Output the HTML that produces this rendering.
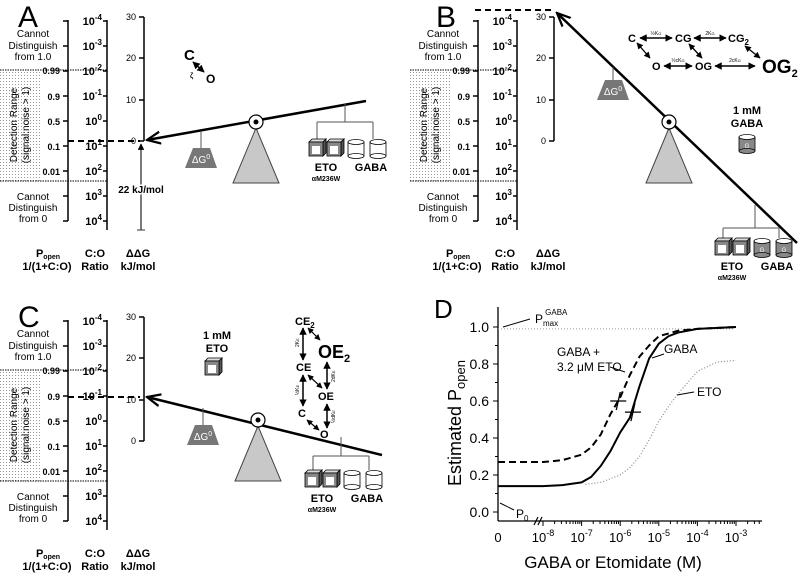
<!DOCTYPE html>
<html><head><meta charset="utf-8"><style>
html,body{margin:0;padding:0;background:#fff}
svg{display:block;font-family:"Liberation Sans",Arial,sans-serif}
.b{font-weight:bold}
</style></head><body>
<svg id="fig" width="800" height="574" viewBox="0 0 800 574" xmlns="http://www.w3.org/2000/svg">
<defs>
<pattern id="stip" width="3" height="3" patternUnits="userSpaceOnUse"><rect width="3" height="3" fill="#fff"/><rect width="1" height="1" fill="#999"/></pattern>
<marker id="ah" viewBox="0 0 10 10" refX="9" refY="5" markerWidth="5" markerHeight="5" orient="auto-start-reverse"><path d="M0,0 L10,5 L0,10 z" fill="#000"/></marker>
<marker id="ao" viewBox="0 0 10 10" refX="9" refY="5" markerWidth="6" markerHeight="6" orient="auto"><path d="M0,1 L9,5 L0,9" fill="none" stroke="#000" stroke-width="1.5"/></marker>
</defs>
<g id="pA"></g>
<g id="pB" transform="translate(410,0)"></g>
<g id="pC" transform="translate(0,300)"></g>
<g id="pD"></g>
</svg>
<script>
// ---- Panel D data ----
const gabaLog = [-8,-7.5,-7,-6.75,-6.5,-6.25,-6,-5.75,-5.5,-5.25,-5,-4.75,-4.5,-4,-3];
const gabaP   = [0.14,0.145,0.16,0.19,0.25,0.33,0.43,0.51,0.68,0.83,0.91,0.95,0.97,0.99,1.0];
const comboLog = [-8,-7.5,-7,-6.75,-6.5,-6.25,-6,-5.75,-5.5,-5.25,-5,-4.5,-4,-3];
const comboP   = [0.27,0.28,0.31,0.35,0.42,0.53,0.62,0.74,0.84,0.9,0.95,0.98,0.99,1.0];
const etoLog = [-6.9,-6.5,-6,-5.75,-5.5,-5.25,-5,-4.75,-4.5,-4.25,-4,-3.5,-3];
const etoP   = [0.15,0.16,0.2,0.24,0.3,0.39,0.49,0.57,0.64,0.7,0.76,0.81,0.82];
const gabaZero = 0.14;
const comboZero = 0.27;
const yTicks = [0,0.2,0.4,0.6,0.8,1.0];
const yTickLabels = ["0.0","0.2","0.4","0.6","0.8","1.0"];
const xTickLogs = [-8,-7,-6,-5,-4,-3];
const crossLog = [-5.67,-6.05];
const crossP = [0.54,0.6];
const pmax = 0.99;

function tick10(x,y,e,anchor){return `<text x="${x}" y="${y}" font-size="11" class="b" text-anchor="${anchor||'end'}">10<tspan font-size="8" dy="-5">${e}</tspan></text>`;}

function axes(tag){
  let s='';
  s+=`<rect x="0" y="70" width="40" height="111" fill="url(#stip)"/>`;
  s+=`<line x1="0" y1="70" x2="107" y2="70" stroke="#000" stroke-width="1" stroke-dasharray="1.5,1"/>`;
  s+=`<line x1="0" y1="181" x2="107" y2="181" stroke="#000" stroke-width="1" stroke-dasharray="1.5,1"/>`;
  s+=`<g font-size="10" text-anchor="middle"><text x="33" y="37">Cannot</text><text x="33" y="49">Distinguish</text><text x="33" y="60">from 1.0</text></g>`;
  s+=`<g font-size="10" text-anchor="middle"><text x="33" y="200">Cannot</text><text x="33" y="211">Distinguish</text><text x="33" y="222">from 0</text></g>`;
  s+=`<g font-size="10" text-anchor="middle" transform="translate(20,125) rotate(-90)"><text x="0" y="-3">Detection Range</text><text x="0" y="9">(signal:noise &gt; 1)</text></g>`;
  s+=`<g stroke="#000" stroke-width="1.5"><line x1="68" y1="20" x2="68" y2="221"/>`;
  for(const y of [21,46,71,96,121,146,171,196,221]) s+=`<line x1="63" y1="${y}" x2="68" y2="${y}"/>`;
  s+=`</g><g font-size="9" text-anchor="end" class="b">`;
  [['0.99',74],['0.9',100],['0.5',125],['0.1',150],['0.01',175]].forEach(a=>s+=`<text x="60" y="${a[1]}">${a[0]}</text>`);
  s+=`</g>`;
  s+=`<g stroke="#000" stroke-width="1.5"><line x1="107" y1="20" x2="107" y2="230"/>`;
  for(const y of [21,46,71,96,121,146,171,196,221]) s+=`<line x1="103" y1="${y}" x2="107" y2="${y}"/>`;
  s+=`</g><g>`;
  ['-4','-3','-2','-1','0','1','2','3','4'].forEach((e,i)=>s+=tick10(102,25+25*i,e));
  s+=`</g>`;
  s+=`<g stroke="#000" stroke-width="1.5"><line x1="144" y1="17" x2="144" y2="141"/>`;
  for(const y of [17,58,100,141]) s+=`<line x1="139" y1="${y}" x2="144" y2="${y}"/>`;
  s+=`</g><g font-size="9" text-anchor="end"><text x="136" y="20">30</text><text x="136" y="61">20</text><text x="136" y="103">10</text><text x="136" y="144">0</text></g>`;
  s+=`<g font-size="11" class="b" text-anchor="middle">
  <text x="48" y="257">P<tspan font-size="7" dy="2">open</tspan></text><text x="47" y="270">1/(1+C:O)</text>
  <text x="95" y="257">C:O</text><text x="95" y="270">Ratio</text>
  <text x="138" y="257">ΔΔG</text><text x="138" y="270">kJ/mol</text></g>`;
  return s;
}
function pivot(tag,x,y){
  return `<polygon points="${x},${y+6} ${x-23},${y+61} ${x+23},${y+61}" fill="#c8c8c8" stroke="#444" stroke-width="1"/>
  <circle cx="${x}" cy="${y}" r="7" fill="#fff" stroke="#000" stroke-width="1.2"/><circle cx="${x}" cy="${y}" r="2.5" fill="#000"/>`;
}
function weight(tag,x,y0,y){
  return `<g><line x1="${x}" y1="${y0}" x2="${x}" y2="${y}" stroke="#555"/>
  <polygon points="${x-8},${y} ${x+9},${y} ${x+16},${y+20} ${x-16},${y+20}" fill="#777"/>
  <text x="${x}" y="${y+15}" fill="#fff" font-size="10" text-anchor="middle">ΔG<tspan font-size="7" dy="-4">0</tspan></text></g>`;
}
function cube(x,y,fill){return `<g><polygon points="${x},${y+3} ${x+3},${y} ${x+17},${y} ${x+14},${y+3}" fill="#ddd" stroke="#000" stroke-width="0.8"/><polygon points="${x+14},${y+3} ${x+17},${y} ${x+17},${y+14} ${x+14},${y+17}" fill="#555" stroke="#000" stroke-width="0.8"/><rect x="${x}" y="${y+3}" width="14" height="14" fill="${fill}" stroke="#000" stroke-width="0.8"/><rect x="${x+3}" y="${y+7}" width="8" height="8" fill="#fff"/></g>`;}
function cyl(x,y,fill){return `<g><rect x="${x}" y="${y+3}" width="16" height="14" fill="${fill}" stroke="#000" stroke-width="0.8"/><ellipse cx="${x+8}" cy="${y+17}" rx="8" ry="2.5" fill="${fill}" stroke="#000" stroke-width="0.8"/><ellipse cx="${x+8}" cy="${y+3}" rx="8" ry="2.5" fill="#fff" stroke="#000" stroke-width="0.8"/>${fill!=='#fff'?`<text x="${x+8}" y="${y+14}" font-size="6" fill="#fff" text-anchor="middle">G</text>`:''}</g>`;}
function cluster(tag,hx,hy0,hy1,bx,by,gfill){
  let s=`<g stroke="#555" fill="none"><line x1="${hx}" y1="${hy0}" x2="${hx}" y2="${hy1}"/><line x1="${bx+8}" y1="${hy1}" x2="${bx+64}" y2="${hy1}"/><line x1="${bx+8}" y1="${hy1}" x2="${bx+8}" y2="${by}"/><line x1="${bx+64}" y1="${hy1}" x2="${bx+64}" y2="${by}"/></g>`;
  s+=`<g>${cube(bx,by,'#888')}${cube(bx+18,by,'#888')}</g>`;
  s+=`<g>${cyl(bx+39,by,gfill)}${cyl(bx+61,by,gfill)}</g>`;
  s+=`<g class="b" text-anchor="middle"><text x="${bx+17}" y="${by+32}" font-size="11">ETO</text><text x="${bx+17}" y="${by+42}" font-size="7">αM236W</text><text x="${bx+62}" y="${by+32}" font-size="11">GABA</text></g>`;
  return s;
}
function dblArrow(x1,y1,x2,y2,w){return `<line x1="${x1}" y1="${y1}" x2="${x2}" y2="${y2}" stroke="#000" stroke-width="${w||1.5}" marker-start="url(#ah)" marker-end="url(#ah)"/>`;}

// Panel A
let a = `<text x="18" y="27" font-size="30">A</text>` + axes('a');
a += `<line x1="68" y1="141" x2="140" y2="141" stroke="#000" stroke-width="2" stroke-dasharray="6,4"/>`;
a += `<line x1="366" y1="101" x2="147" y2="140" stroke="#000" stroke-width="2.5" marker-end="url(#ao)"/>`;
a += `<g><line x1="141" y1="144" x2="141" y2="230" stroke="#333" stroke-width="1.3" marker-start="url(#ah)"/><line x1="137" y1="230" x2="145" y2="230" stroke="#333"/><text x="141" y="193" font-size="10" class="b" text-anchor="middle" fill="#000" stroke="#fff" stroke-width="3" paint-order="stroke">22 kJ/mol</text></g>`;
a += weight('a',201,131,148) + pivot('a',256,122) + cluster('a',345,104,122,309,139,'#fff');
a += `<g class="b"><text x="184" y="60" font-size="15">C</text><text x="206" y="83" font-size="12">O</text>${dblArrow(193,62,204,72)}<text x="190" y="78" font-size="7">ζ</text></g>`;
document.getElementById('pA').innerHTML = a;

// Panel B (offset 410)
let b = `<text x="26" y="27" font-size="30">B</text>` + axes('b');
b += `<line x1="65" y1="10" x2="145" y2="10" stroke="#000" stroke-width="2" stroke-dasharray="6,4"/>`;
b += `<line x1="387" y1="243" x2="147" y2="13" stroke="#000" stroke-width="2.5" marker-end="url(#ao)"/>`;
b += weight('b',203,67,80) + pivot('b',259,122) + cluster('b',345,205,228,305,238,'#888');
b += `<g class="b" text-anchor="middle" font-size="11"><text x="337" y="114">1 mM</text><text x="337" y="127">GABA</text></g><g transform="translate(329,134)">${cyl(0,0,'#888')}</g>`;
b += `<g class="b">
<text x="218" y="42" font-size="11">C</text><text x="265" y="42" font-size="11">CG</text><text x="318" y="42" font-size="11">CG<tspan font-size="8" dy="3">2</tspan></text>
<text x="242" y="70" font-size="11">O</text><text x="285" y="70" font-size="11">OG</text><text x="352" y="73" font-size="19">OG<tspan font-size="11" dy="4">2</tspan></text>
${dblArrow(230,38,262,38)}${dblArrow(284,38,316,38)}${dblArrow(254,66,282,66)}${dblArrow(305,66,345,66)}
${dblArrow(227,43,240,58,1.3)}${dblArrow(279,44,292,58,1.3)}${dblArrow(335,46,350,58,1.3)}
<g font-size="5" font-weight="normal" text-anchor="middle"><text x="246" y="35">½K<tspan font-size="4">G</tspan></text><text x="300" y="35">2K<tspan font-size="4">G</tspan></text><text x="268" y="62">½cK<tspan font-size="4">G</tspan></text><text x="325" y="62">2cK<tspan font-size="4">G</tspan></text></g></g>`;
document.getElementById('pB').innerHTML = b;

// Panel C (offset y 300)
let c = `<text x="18" y="27" font-size="30">C</text>` + axes('c');
c += `<line x1="68" y1="97" x2="140" y2="97" stroke="#000" stroke-width="2" stroke-dasharray="6,4"/>`;
c += `<line x1="382" y1="155" x2="147" y2="97" stroke="#000" stroke-width="2.5" marker-end="url(#ao)"/>`;
c += weight('c',203,108,125) + pivot('c',258,120) + cluster('c',341,137,156,305,170,'#fff');
c += `<g class="b" text-anchor="middle" font-size="11"><text x="217" y="39">1 mM</text><text x="217" y="52">ETO</text></g><g transform="translate(205,58)">${cube(0,0,'#888')}</g>`;
c += `<g class="b">
<text x="295" y="25" font-size="11">CE<tspan font-size="8" dy="3">2</tspan></text><text x="318" y="58" font-size="18">OE<tspan font-size="11" dy="4">2</tspan></text>
<text x="296" y="71" font-size="11">CE</text><text x="318" y="100" font-size="11">OE</text>
<text x="298" y="117" font-size="11">C</text><text x="320" y="138" font-size="11">O</text>
${dblArrow(303,28,303,60)}${dblArrow(303,75,303,106)}${dblArrow(327,62,327,89)}${dblArrow(327,104,327,128)}
${dblArrow(308,28,320,40,1.2)}${dblArrow(308,75,322,88,1.2)}${dblArrow(307,120,319,130,1.2)}
<g font-size="5" font-weight="normal"><text transform="translate(299,47) rotate(-90)">2K<tspan font-size="4">E</tspan></text><text transform="translate(299,95) rotate(-90)">½K<tspan font-size="4">E</tspan></text><text transform="translate(335,82) rotate(-90)">2dK<tspan font-size="4">E</tspan></text><text transform="translate(335,123) rotate(-90)">½dK<tspan font-size="4">E</tspan></text></g></g>`;
document.getElementById('pC').innerHTML = c;

// Panel D
const X0 = 498, Xs = 543, dec = 38.6;
const xs = l => Xs + (l + 8) * dec;
const ys = p => 512 - p * 185;
const D = document.getElementById('pD');
let d = `<text x="434" y="318" font-size="26">D</text>`;
d += `<g stroke="#000" stroke-width="1.3" fill="none"><line x1="${X0}" y1="307" x2="${X0}" y2="521"/><line x1="${X0}" y1="521" x2="762" y2="521"/></g>`;
d += `<g stroke="#000" stroke-width="1.2"><line x1="534" y1="525" x2="538" y2="517"/><line x1="538" y1="525" x2="542" y2="517"/></g>`;
let yt = `<g stroke="#000">`, ytl = `<g font-size="14" text-anchor="end">`;
yTicks.forEach((v,i)=>{ const y=ys(v); yt+=`<line x1="${X0-5}" y1="${y}" x2="${X0}" y2="${y}"/>`; if(i<5) yt+=`<line x1="${X0-3}" y1="${ys(v+0.1)}" x2="${X0}" y2="${ys(v+0.1)}"/>`; ytl+=`<text x="${X0-9}" y="${y+5}">${yTickLabels[i]}</text>`; });
d += yt + `</g>` + ytl + `</g>`;
let xt = `<g stroke="#000">`, xtl = `<g font-size="13" text-anchor="middle"><text x="${X0}" y="542">0</text>`;
for(let l=-8;l<=-2;l++){ for(let m=1;m<10;m++){ const x=xs(l+Math.log10(m)); if(x>762) break; xt+=`<line x1="${x}" y1="521" x2="${x}" y2="${m===1?526:524}"/>`; } }
xTickLogs.forEach(l=>{ xtl+=`<text x="${xs(l)}" y="542">10<tspan font-size="9" dy="-6">${l}</tspan></text>`; });
d += xt + `</g>` + xtl + `</g>`;
d += `<text transform="translate(461,423) rotate(-90)" font-size="18" text-anchor="middle">Estimated P<tspan font-size="13" dy="4">open</tspan></text>`;
d += `<text x="613" y="568" font-size="17" text-anchor="middle">GABA or Etomidate (M)</text>`;
d += `<line x1="${X0}" y1="${ys(pmax)}" x2="735" y2="${ys(pmax)}" stroke="#999" stroke-width="1" stroke-dasharray="1,2"/>`;
D.innerHTML = d;
function path(name, logs, vals, zero, dash, color, w){
  let pts = [];
  if(zero!==null) pts.push([X0, ys(zero)]);
  logs.forEach((l,i)=>pts.push([xs(l), ys(vals[i])]));
  const p = document.createElementNS('http://www.w3.org/2000/svg','polyline');
  
  
  p.setAttribute('points', pts.map(q=>q.join(',')).join(' '));
  p.setAttribute('fill','none'); p.setAttribute('stroke',color); p.setAttribute('stroke-width',w);
  p.setAttribute('stroke-linejoin','round');
  if(dash) p.setAttribute('stroke-dasharray',dash);
  D.appendChild(p);
}
path('eto-curve', etoLog, etoP, null, '1,2', '#888', 1.2);
path('gaba-eto-curve', comboLog, comboP, comboZero, '7,4', '#000', 2);
path('gaba-curve', gabaLog, gabaP, gabaZero, null, '#000', 2);
crossLog.forEach((l,i)=>{
  const g = document.createElementNS('http://www.w3.org/2000/svg','path');
  
  
  const x=xs(l), y=ys(crossP[i]);
  g.setAttribute('d',`M${x-8},${y}H${x+8}M${x-2},${y+9}L${x+2},${y-9}`);
  g.setAttribute('stroke','#000'); g.setAttribute('stroke-width','1.3');
  D.appendChild(g);
});
const ann = document.createElementNS('http://www.w3.org/2000/svg','g');


ann.innerHTML = `<g stroke="#000" stroke-width="1"><line x1="503" y1="327" x2="530" y2="319"/><line x1="610" y1="367" x2="625" y2="372"/><line x1="652" y1="358" x2="664" y2="354"/><line x1="677" y1="395" x2="694" y2="392"/><line x1="500" y1="503" x2="514" y2="510"/></g>
<g font-size="12"><text x="535" y="323">P<tspan font-size="8" dy="3">max</tspan><tspan font-size="8" dx="-13" dy="-11">GABA</tspan></text>
<text x="557" y="356">GABA +</text><text x="557" y="371">3.2 μM ETO</text><text x="664" y="353">GABA</text><text x="697" y="396">ETO</text>
<text x="516" y="518">P<tspan font-size="8" dy="3">0</tspan></text></g>`;
D.appendChild(ann);
</script>
</body></html>
